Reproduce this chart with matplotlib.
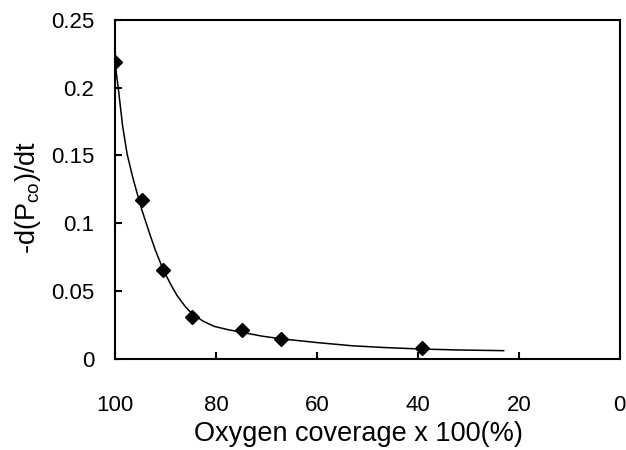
import matplotlib
matplotlib.use('Agg')
import matplotlib.pyplot as plt

plt.rcParams['font.family'] = ['Liberation Sans', 'DejaVu Sans']
plt.rcParams['mathtext.fontset'] = 'custom'
plt.rcParams['mathtext.rm'] = 'Liberation Sans'

# measured points (oxygen coverage %, rate)
coverage = [100, 94.7, 90.5, 84.7, 74.9, 67.1, 39.1]
rate = [0.219, 0.117, 0.065, 0.031, 0.021, 0.0145, 0.0080]

# fitted curve
fit_x = [100, 99.3, 98.5, 97.6, 96.5, 95.5, 94.7, 94, 93, 92, 90.5, 89, 87.7,
         86, 84.7, 82.5, 80.3, 77.5, 75, 71, 67, 60, 53, 46, 40, 32, 23]
fit_y = [0.219, 0.198, 0.172, 0.151, 0.134, 0.1205, 0.110, 0.102, 0.0907,
         0.080, 0.066, 0.055, 0.0465, 0.038, 0.033, 0.0275, 0.0237, 0.0212,
         0.0195, 0.0166, 0.0145, 0.0118, 0.0094, 0.0080, 0.0071, 0.0063,
         0.0058]

xticks = [100, 80, 60, 40, 20, 0]
yticks = [0, 0.05, 0.1, 0.15, 0.2, 0.25]
ylabels = ['0', '0.05', '0.1', '0.15', '0.2', '0.25']

fig = plt.figure(figsize=(6.26, 4.5), dpi=100)
ax = fig.add_axes([0.1837, 0.2033, 0.8063, 0.7523])

ax.plot(fit_x, fit_y, color='black', linewidth=1.1)
ax.plot(coverage, rate, linestyle='none', marker='D', markersize=7.5,
        color='black')

ax.set_xlim(100, 0)
ax.set_ylim(0, 0.25)
ax.set_xticks(xticks)
ax.set_xticklabels([str(t) for t in xticks])
ax.set_yticks(yticks)
ax.set_yticklabels(ylabels)

for side in ax.spines.values():
    side.set_linewidth(1.5)
ax.tick_params(axis='both', direction='in', length=5, width=1.5,
               labelsize=16)
ax.tick_params(axis='x', pad=26)
ax.tick_params(axis='y', pad=15)

ax.set_xlabel('Oxygen coverage x 100(%)', fontsize=19.5)
ax.set_ylabel(r'-d(P$_\mathregular{co}$)/dt', fontsize=19.5)
ax.xaxis.set_label_coords(0.482, -0.222)
ax.yaxis.set_label_coords(-0.172, 0.476)
ax.xaxis.label.set_va('center')
ax.yaxis.label.set_va('center')

fig.savefig('out.png', dpi=100)
